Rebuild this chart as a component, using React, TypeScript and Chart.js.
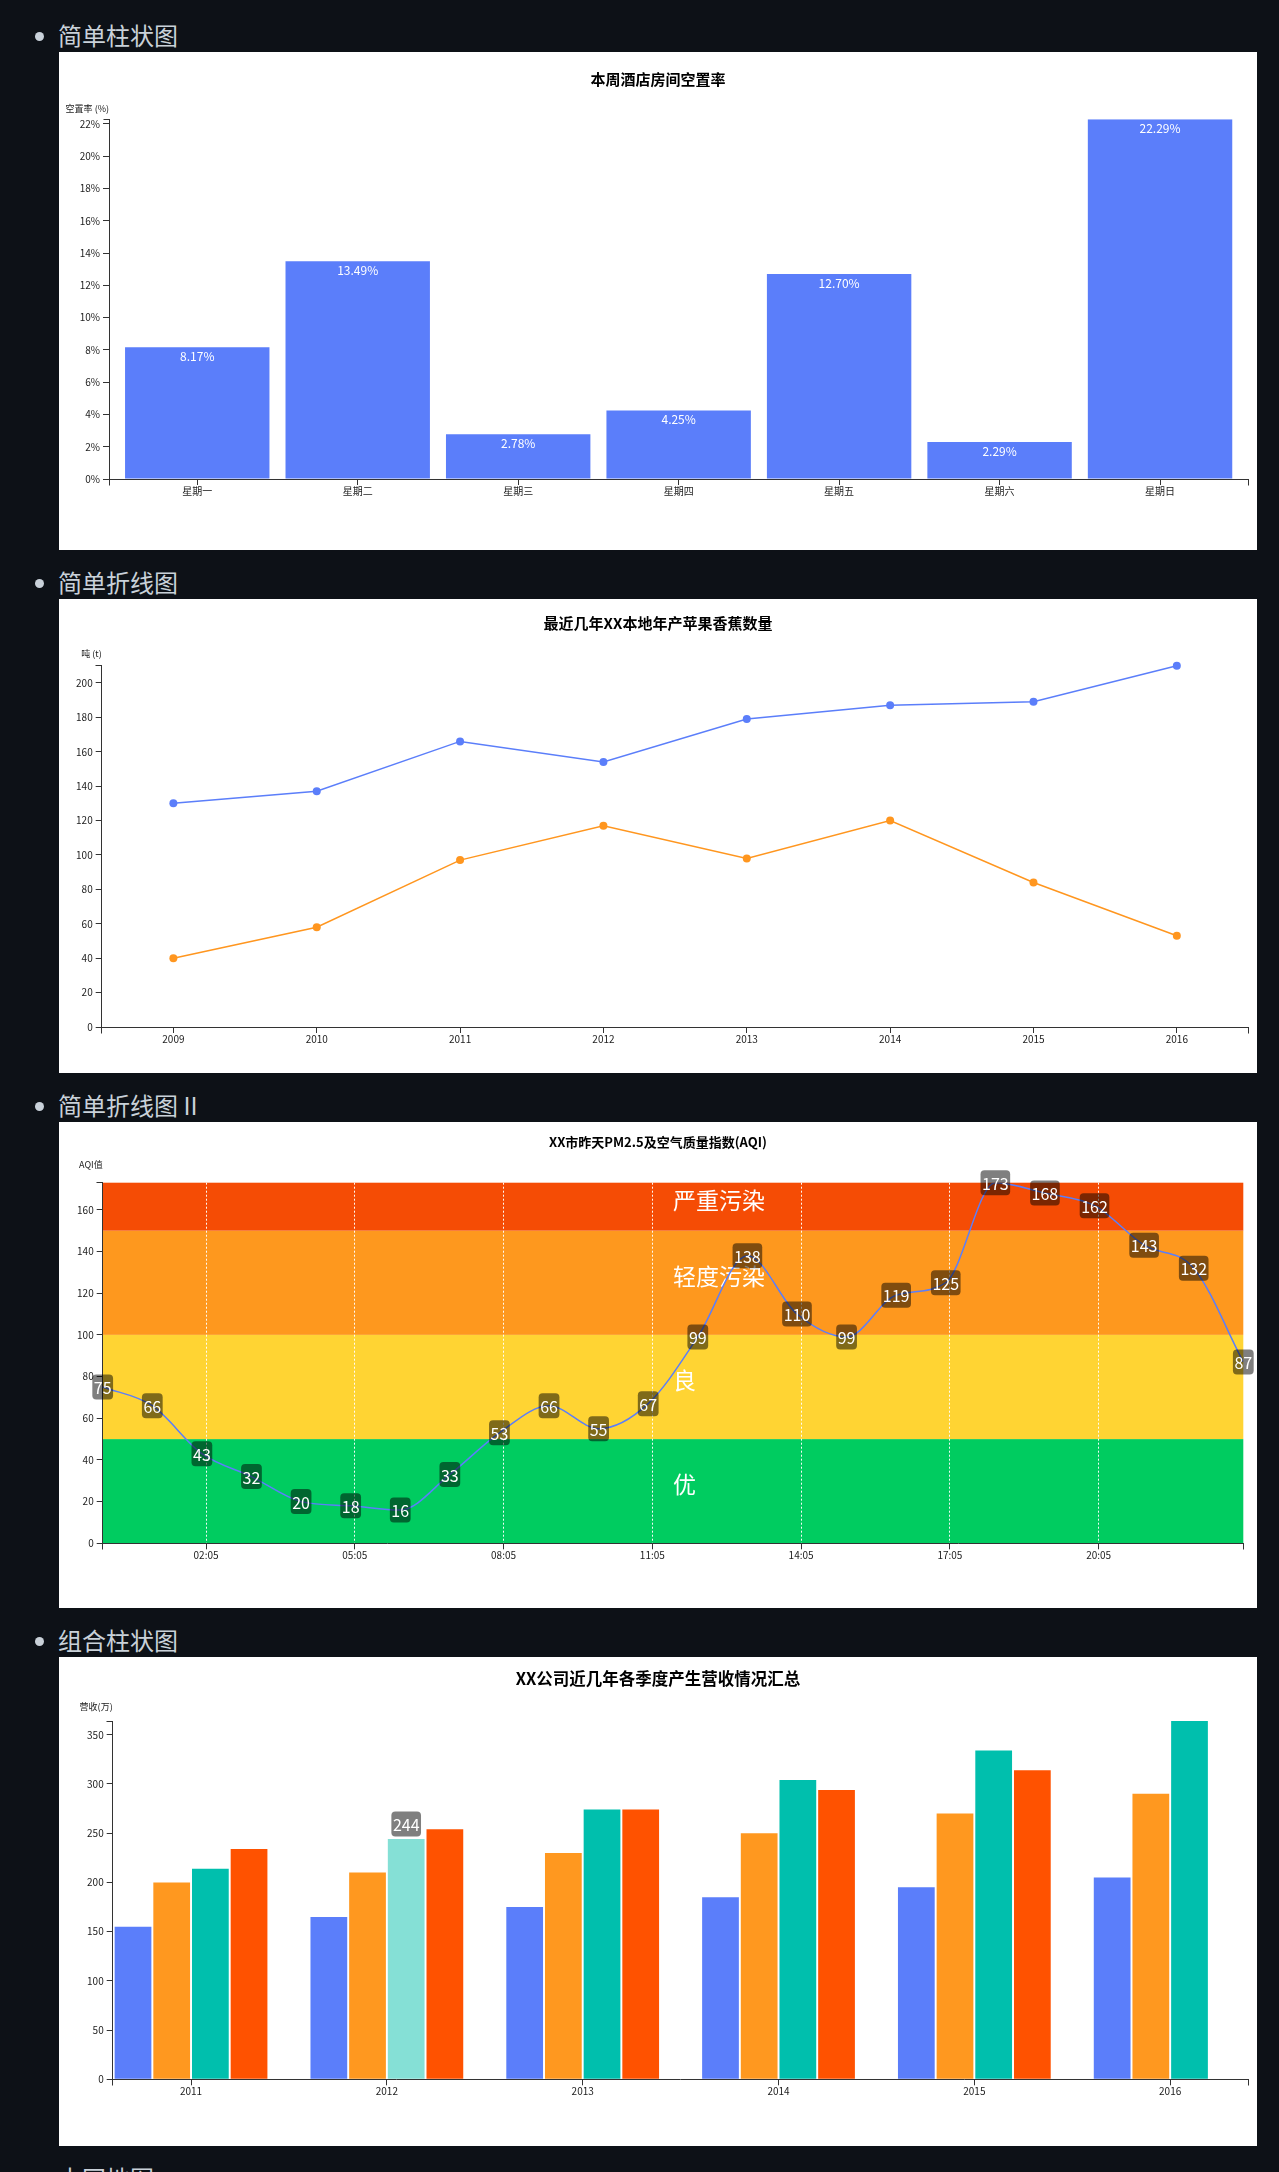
import React, { useEffect, useRef } from 'react';
import { Chart, registerables } from 'chart.js';

Chart.register(...registerables);

const FONT = '"Noto Sans CJK SC", "Noto Sans", sans-serif';

// ---------------- data ----------------
const sectionTitles = ['简单柱状图', '简单折线图', '简单折线图 II', '组合柱状图', '中国地图'];

const weekDays = ['星期一', '星期二', '星期三', '星期四', '星期五', '星期六', '星期日'];
const vacancyRates = [8.17, 13.49, 2.78, 4.25, 12.7, 2.29, 22.29];
const vacancyTicks = [0, 2, 4, 6, 8, 10, 12, 14, 16, 18, 20, 22];

const fruitYears = ['2009', '2010', '2011', '2012', '2013', '2014', '2015', '2016'];
const appleTons = [130, 137, 166, 154, 179, 187, 189, 210];
const bananaTons = [40, 58, 97, 117, 98, 120, 84, 53];
const tonTicks = [0, 20, 40, 60, 80, 100, 120, 140, 160, 180, 200];

const aqiTimes = [
  '00:00', '01:00', '02:00', '03:00', '04:00', '05:00', '06:00', '07:00',
  '08:00', '09:00', '10:00', '11:00', '12:00', '13:00', '14:00', '15:00',
  '16:00', '17:00', '18:00', '19:00', '20:00', '21:00', '22:00', '23:00',
];
const aqiValues = [75, 66, 43, 32, 20, 18, 16, 33, 53, 66, 55, 67, 99, 138, 110, 99, 119, 125, 173, 168, 162, 143, 132, 87];
const aqiTimeTicks = ['02:05', '05:05', '08:05', '11:05', '14:05', '17:05', '20:05'];
const aqiTicks = [0, 20, 40, 60, 80, 100, 120, 140, 160];
const aqiLevelNames = ['优', '良', '轻度污染', '严重污染'];
const aqiLevelFloors = [0, 50, 100, 150];

const revenueYears = ['2011', '2012', '2013', '2014', '2015', '2016'];
const revenueQ1 = [155, 165, 175, 185, 195, 205];
const revenueQ2 = [200, 210, 230, 250, 270, 290];
const revenueQ3 = [214, 244, 274, 304, 334, 364];
const revenueQ4 = [234, 254, 274, 294, 314, null];
const revenueTicks = [0, 50, 100, 150, 200, 250, 300, 350];
const highlightedBar = { series: 2, index: 1 };

// ---------------- styles ----------------
const BG = '#0d1117';
const HEADER_COLOR = '#c9d1d9';
const AXIS = '#333333';
const TICK_TEXT = '#222222';
const BLUE = '#5b7efa';
const ORANGE_LINE = '#ff961f';
const QUARTER_COLORS = ['#5b7efa', '#ff981f', '#00bfad', '#ff5200'];
const HIGHLIGHT_COLOR = '#85e0d6';
const LEVEL_COLORS = ['#00cc60', '#ffd433', '#fe981e', '#f54c05'];
const BOX_WIDTH = 1198;
const SECTION_HEIGHTS = [498, 474, 486, 489];

const toHours = (t: string) => {
  const [h, m] = t.split(':').map(Number);
  return h + m / 60;
};

const align = (p: number) => Math.round(p - 0.5) + 0.5;

function yAxis(ticks: number[], max: number, width: number, fmt?: (v: number) => string) {
  return {
    type: 'linear',
    min: 0,
    max,
    bounds: 'data',
    afterBuildTicks: (s: any) => {
      s.ticks = ticks.map((v) => ({ value: v }));
    },
    afterFit: (s: any) => {
      s.width = width;
    },
    grid: { drawOnChartArea: false, drawTicks: true, tickLength: 6, tickColor: AXIS, tickWidth: 1, lineWidth: 1, color: AXIS },
    border: { display: true, color: AXIS, width: 1 },
    ticks: {
      padding: 3,
      autoSkip: false,
      color: TICK_TEXT,
      font: { size: 10, family: FONT },
      callback: (v: number) => (fmt ? fmt(v) : String(v)),
    },
  };
}

function xLinear(min: number, max: number, ticks: number[], labels: string[], height: number) {
  return {
    type: 'linear',
    min,
    max,
    offset: false,
    bounds: 'data',
    afterBuildTicks: (s: any) => {
      s.ticks = ticks.map((v) => ({ value: v }));
    },
    afterFit: (s: any) => {
      s.height = height;
    },
    grid: { offset: false, drawOnChartArea: false, drawTicks: true, tickLength: 6, tickColor: AXIS, tickWidth: 1, lineWidth: 1, color: AXIS },
    border: { display: true, color: AXIS, width: 1 },
    ticks: {
      padding: 0,
      autoSkip: false,
      maxRotation: 0,
      color: TICK_TEXT,
      font: { size: 10, family: FONT },
      callback: (_v: number, i: number) => labels[i],
    },
  };
}

// D3 band scale -> linear domain limits so bars sit where a band scale puts them
const bandLimits = (n: number, padInner: number, padOuter: number) => {
  const lead = padOuter + (1 - padInner) / 2;
  return { min: -lead, max: n - 1 + lead };
};

const axisEnds = {
  id: 'axisEnds',
  afterDraw(chart: any) {
    const { ctx, chartArea } = chart;
    const l = align(chartArea.left);
    const r = align(chartArea.right);
    const t = align(chartArea.top);
    const b = align(chartArea.bottom);
    ctx.save();
    ctx.strokeStyle = AXIS;
    ctx.lineWidth = 1;
    ctx.beginPath();
    ctx.moveTo(l - 6, t);
    ctx.lineTo(l, t);
    ctx.moveTo(l, b);
    ctx.lineTo(l, b + 6);
    ctx.moveTo(r, b);
    ctx.lineTo(r, b + 6);
    ctx.stroke();
    ctx.restore();
  },
};

function titles(text: string, size: number, y: number, yText: string, yTextY: number) {
  return {
    id: 'titles',
    afterDraw(chart: any) {
      const { ctx, chartArea, width } = chart;
      ctx.save();
      ctx.fillStyle = '#000';
      ctx.font = `bold ${size}px ${FONT}`;
      ctx.textAlign = 'center';
      ctx.textBaseline = 'middle';
      ctx.fillText(text, width / 2, y);
      ctx.font = `9px ${FONT}`;
      ctx.fillStyle = TICK_TEXT;
      ctx.textAlign = 'right';
      ctx.fillText(yText, chartArea.left, yTextY);
      ctx.restore();
    },
  };
}

function drawValueBox(ctx: CanvasRenderingContext2D, text: string, cx: number, cy: number) {
  ctx.save();
  ctx.font = `16px ${FONT}`;
  const w = ctx.measureText(text).width + 3;
  const h = 25;
  ctx.fillStyle = 'rgba(0,0,0,0.5)';
  ctx.beginPath();
  if ((ctx as any).roundRect) {
    (ctx as any).roundRect(cx - w / 2, cy - h / 2, w, h, 4);
  } else {
    ctx.rect(cx - w / 2, cy - h / 2, w, h);
  }
  ctx.fill();
  ctx.fillStyle = '#fff';
  ctx.textAlign = 'center';
  ctx.textBaseline = 'middle';
  ctx.fillText(text, cx, cy + 1);
  ctx.restore();
}

const baseOptions = (padTop: number, padRight: number) => ({
  responsive: false,
  animation: false,
  devicePixelRatio: 1,
  events: [],
  layout: { padding: { top: padTop, right: padRight, left: 0, bottom: 0 } },
  plugins: { legend: { display: false }, tooltip: { enabled: false }, title: { display: false } },
});

// ---------------- chart builders ----------------
function buildVacancy(canvas: HTMLCanvasElement) {
  const lim = bandLimits(weekDays.length, 0.1, 0.1);
  const valueLabels = {
    id: 'valueLabels',
    afterDatasetsDraw(chart: any) {
      const { ctx } = chart;
      const meta = chart.getDatasetMeta(0);
      ctx.save();
      ctx.fillStyle = '#fff';
      ctx.font = `12px ${FONT}`;
      ctx.textAlign = 'center';
      ctx.textBaseline = 'middle';
      meta.data.forEach((bar: any, i: number) => {
        ctx.fillText(vacancyRates[i].toFixed(2) + '%', bar.x, bar.y + 9);
      });
      ctx.restore();
    },
  };
  return new Chart(canvas, {
    type: 'bar',
    data: {
      datasets: [
        {
          data: vacancyRates.map((v, i) => ({ x: i, y: v })),
          backgroundColor: BLUE,
          borderWidth: 0,
          categoryPercentage: 0.9,
          barPercentage: 1,
        },
      ],
    },
    options: {
      ...baseOptions(67.3, 8.7),
      scales: {
        x: xLinear(lim.min, lim.max, weekDays.map((_, i) => i), weekDays, 71),
        y: yAxis(vacancyTicks, Math.max(...vacancyRates), 50, (v) => v + '%'),
      },
    } as any,
    plugins: [axisEnds, titles('本周酒店房间空置率', 15, 27, '空置率 (%)', 56.3), valueLabels],
  } as any);
}

function buildFruit(canvas: HTMLCanvasElement) {
  const xAxis: any = xLinear(0, 0, [], fruitYears, 46);
  const pointStyle = (color: string) => ({
    borderColor: color,
    backgroundColor: color,
    borderWidth: 1.5,
    pointRadius: 4,
    pointBorderWidth: 0,
    pointBackgroundColor: color,
    tension: 0,
    clip: false,
  });
  return new Chart(canvas, {
    type: 'line',
    data: {
      labels: fruitYears,
      datasets: [
        { data: appleTons, ...pointStyle(BLUE) },
        { data: bananaTons, ...pointStyle(ORANGE_LINE) },
      ],
    },
    options: {
      ...baseOptions(66.7, 8.5),
      scales: {
        x: {
          type: 'category',
          offset: true,
          afterFit: xAxis.afterFit,
          grid: { ...xAxis.grid, offset: false },
          border: xAxis.border,
          ticks: { padding: 0, autoSkip: false, maxRotation: 0, color: TICK_TEXT, font: { size: 10, family: FONT } },
        },
        y: yAxis(tonTicks, Math.max(...appleTons, ...bananaTons), 42.7),
      },
    } as any,
    plugins: [axisEnds, titles('最近几年XX本地年产苹果香蕉数量', 15, 24.6, '吨 (t)', 54.3)],
  } as any);
}

function buildAqi(canvas: HTMLCanvasElement) {
  const times = aqiTimes.map(toHours);
  const tickPos = aqiTimeTicks.map(toHours);
  const xAxis: any = xLinear(times[0], times[times.length - 1], tickPos, aqiTimeTicks, 64.7);
  xAxis.grid = { offset: false, drawOnChartArea: true, drawTicks: true, tickLength: 6, tickColor: AXIS, tickWidth: 1, lineWidth: 1, color: 'rgba(255,255,255,0.95)' };
  xAxis.border = { display: true, color: AXIS, width: 1, dash: [2, 2] };

  const bands = {
    id: 'bands',
    beforeDraw(chart: any) {
      const { ctx, chartArea, scales } = chart;
      const y = scales.y;
      ctx.save();
      aqiLevelFloors.forEach((floor, i) => {
        const ceil = i + 1 < aqiLevelFloors.length ? aqiLevelFloors[i + 1] : y.max;
        const y0 = y.getPixelForValue(floor);
        const y1 = y.getPixelForValue(Math.min(ceil, y.max));
        ctx.fillStyle = LEVEL_COLORS[i];
        ctx.fillRect(chartArea.left, y1, chartArea.right - chartArea.left, y0 - y1);
      });
      ctx.restore();
    },
    beforeDatasetsDraw(chart: any) {
      const { ctx, chartArea, scales } = chart;
      const y = scales.y;
      ctx.save();
      ctx.fillStyle = '#fff';
      ctx.font = `23px ${FONT}`;
      ctx.textAlign = 'left';
      ctx.textBaseline = 'alphabetic';
      aqiLevelFloors.forEach((floor, i) => {
        const ceil = i + 1 < aqiLevelFloors.length ? aqiLevelFloors[i + 1] : y.max;
        const mid = (y.getPixelForValue(floor) + y.getPixelForValue(Math.min(ceil, y.max))) / 2;
        ctx.fillText(aqiLevelNames[i], (chartArea.left + chartArea.right) / 2, mid + 2);
      });
      ctx.restore();
    },
  };
  const pointLabels = {
    id: 'pointLabels',
    afterDatasetsDraw(chart: any) {
      const meta = chart.getDatasetMeta(0);
      meta.data.forEach((pt: any, i: number) => drawValueBox(chart.ctx, String(aqiValues[i]), pt.x, pt.y));
    },
  };
  return new Chart(canvas, {
    type: 'line',
    data: {
      datasets: [
        {
          data: times.map((t, i) => ({ x: t, y: aqiValues[i] })),
          borderColor: BLUE,
          borderWidth: 1.5,
          pointRadius: 0,
          cubicInterpolationMode: 'monotone',
          fill: false,
        },
      ],
    },
    options: {
      ...baseOptions(60.7, 13.7),
      scales: {
        x: xAxis,
        y: yAxis(aqiTicks, Math.max(...aqiValues), 43.7),
      },
    } as any,
    plugins: [bands, axisEnds, titles('XX市昨天PM2.5及空气质量指数(AQI)', 13, 19.7, 'AQI值', 43), pointLabels],
  } as any);
}

function buildRevenue(canvas: HTMLCanvasElement) {
  const series = [revenueQ1, revenueQ2, revenueQ3, revenueQ4];
  const lim = bandLimits(revenueYears.length, 0.2, 0);
  const all = series.flat().filter((v) => v != null) as number[];
  const hoverLabel = {
    id: 'hoverLabel',
    afterDatasetsDraw(chart: any) {
      const bar = chart.getDatasetMeta(highlightedBar.series).data[highlightedBar.index];
      const value = series[highlightedBar.series][highlightedBar.index];
      if (!bar || value == null) return;
      drawValueBox(chart.ctx, String(value), bar.x, bar.y - 2.5 - 12.5);
    },
  };
  return new Chart(canvas, {
    type: 'bar',
    data: {
      datasets: series.map((arr, k) => ({
        data: arr.flatMap((v, i) => (v == null ? [] : [{ x: i, y: v }])),
        backgroundColor:
          k === highlightedBar.series
            ? (c: any) => (c.dataIndex === highlightedBar.index ? HIGHLIGHT_COLOR : QUARTER_COLORS[k])
            : QUARTER_COLORS[k],
        borderWidth: 0,
        categoryPercentage: 0.79,
        barPercentage: 0.95,
      })),
    },
    options: {
      ...baseOptions(64, 8.5),
      scales: {
        x: xLinear(lim.min, lim.max, revenueYears.map((_, i) => i), revenueYears, 66.7),
        y: yAxis(revenueTicks, Math.max(...all), 53.7),
      },
    } as any,
    plugins: [axisEnds, titles('XX公司近几年各季度产生营收情况汇总', 16.5, 22, '营收(万)', 50), hoverLabel],
  } as any);
}

const builders = [buildVacancy, buildFruit, buildAqi, buildRevenue];

// ---------------- components ----------------
function Header({ text }: { text: string }) {
  return (
    <div style={{ position: 'relative', height: 49 }}>
      <span
        style={{
          position: 'absolute',
          left: 35,
          top: 29,
          width: 9,
          height: 9,
          borderRadius: '50%',
          background: HEADER_COLOR,
        }}
      />
      <span
        style={{
          position: 'absolute',
          left: 58,
          top: 17,
          fontSize: 24,
          lineHeight: '30px',
          color: HEADER_COLOR,
          fontFamily: FONT,
          whiteSpace: 'nowrap',
        }}
      >
        {text}
      </span>
    </div>
  );
}

function ChartBox({ height, build }: { height: number; build: (c: HTMLCanvasElement) => any }) {
  const ref = useRef<HTMLCanvasElement>(null);
  useEffect(() => {
    const chart = build(ref.current as HTMLCanvasElement);
    return () => chart.destroy();
  }, [build]);
  return (
    <div style={{ marginLeft: 59, width: BOX_WIDTH, height, background: '#fff' }}>
      <canvas ref={ref} width={BOX_WIDTH} height={height} style={{ display: 'block', width: BOX_WIDTH, height }} />
    </div>
  );
}

export default function App() {
  return (
    <div style={{ background: BG, minHeight: 2200, paddingTop: 3, overflow: 'hidden' }}>
      <style>{`html,body{margin:0;padding:0;background:${BG};}`}</style>
      {builders.map((b, i) => (
        <React.Fragment key={i}>
          <Header text={sectionTitles[i]} />
          <ChartBox height={SECTION_HEIGHTS[i]} build={b} />
        </React.Fragment>
      ))}
      <Header text={sectionTitles[4]} />
    </div>
  );
}
